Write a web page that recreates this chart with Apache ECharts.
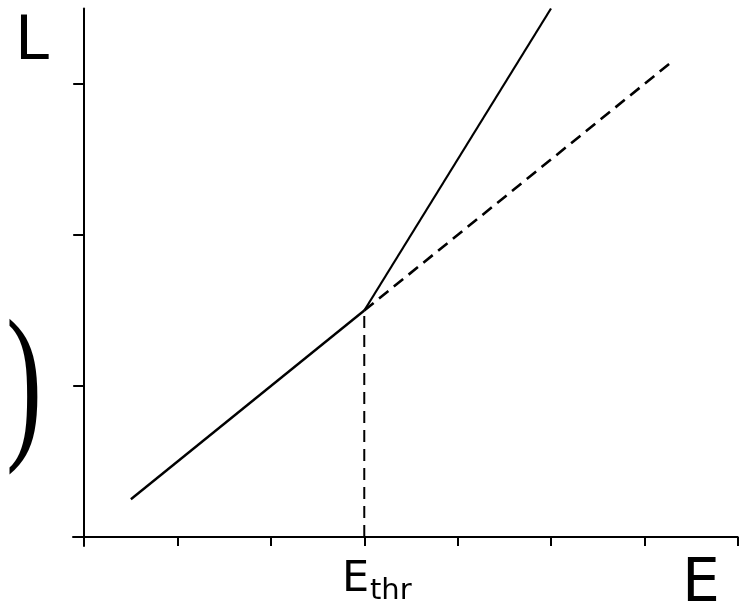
<!DOCTYPE html>
<html>
<head>
<meta charset="utf-8">
<script src="https://cdn.jsdelivr.net/npm/echarts@6/dist/echarts.min.js"></script>
<style>html,body{margin:0;padding:0;background:#fff}#c{width:748px;height:605px}</style>
</head>
<body>
<div id="c"></div>
<script>
// Data
var xTicks = [0, 1, 2, 3, 4, 5, 6, 7];
var yTicks = [1, 2, 3];
var belowThreshold = [[0.5, 0.25], [3, 1.5]];
var aboveThreshold = [[3, 1.5], [5, 3.5]];
var extrapolated = [[3, 1.5], [6.3, 3.15]];
var thresholdMarker = [[3, 0], [3, 1.5]];
var yLabel = 'L';
var xLabel = 'E';
var thrMain = 'E';
var thrSub = 'thr';

var chart = echarts.init(document.getElementById('c'));
var lineBase = { type: 'line', showSymbol: false, symbol: 'none', animation: false, silent: true };
chart.setOption({
  backgroundColor: '#fff',
  animation: false,
  grid: { left: 73, top: 8.5, right: 10.3, bottom: 59, containLabel: false, outerBoundsMode: 'none' },
  xAxis: {
    type: 'value', min: -0.12, max: 7,
    axisLine: { onZero: true, lineStyle: { color: '#000', width: 2 } },
    axisTick: { show: true, customValues: xTicks, length: 9, lineStyle: { color: '#000', width: 2 } },
    axisLabel: { show: false },
    splitLine: { show: false }
  },
  yAxis: {
    type: 'value', min: -0.06, max: 3.5,
    axisLine: { show: true, onZero: true, lineStyle: { color: '#000', width: 2 } },
    axisTick: { show: true, customValues: yTicks, length: 11, lineStyle: { color: '#000', width: 2 } },
    axisLabel: { show: false },
    splitLine: { show: false }
  },
  series: [
    Object.assign({}, lineBase, { data: belowThreshold, lineStyle: { color: '#000', width: 2.4 } }),
    Object.assign({}, lineBase, { data: aboveThreshold, lineStyle: { color: '#000', width: 2.2 } }),
    Object.assign({}, lineBase, { data: extrapolated, lineStyle: { color: '#000', width: 2.6, type: [12, 7] } }),
    Object.assign({}, lineBase, { data: thresholdMarker, lineStyle: { color: '#000', width: 2, type: [12, 7] } })
  ],
  graphic: [
    { type: 'text', x: 15, y: 13, style: { text: yLabel, font: '61px "DejaVu Sans"', fill: '#000', textVerticalAlign: 'top' } },
    { type: 'text', x: 682, y: 555, style: { text: xLabel, font: '60px "DejaVu Sans"', fill: '#000', textVerticalAlign: 'top' } },
    { type: 'text', x: 342, y: 558, style: { text: thrMain, font: '43px "DejaVu Sans"', fill: '#000', textVerticalAlign: 'top' } },
    { type: 'text', x: 370, y: 577, style: { text: thrSub, font: '29px "DejaVu Sans"', fill: '#000', textVerticalAlign: 'top' } },
    { type: 'text', x: 6, y: 307, scaleX: 1.55, scaleY: 2.45, style: { text: ')', font: '70px "Liberation Serif"', fill: '#000', textVerticalAlign: 'top' } }
  ]
});
</script>
</body>
</html>
